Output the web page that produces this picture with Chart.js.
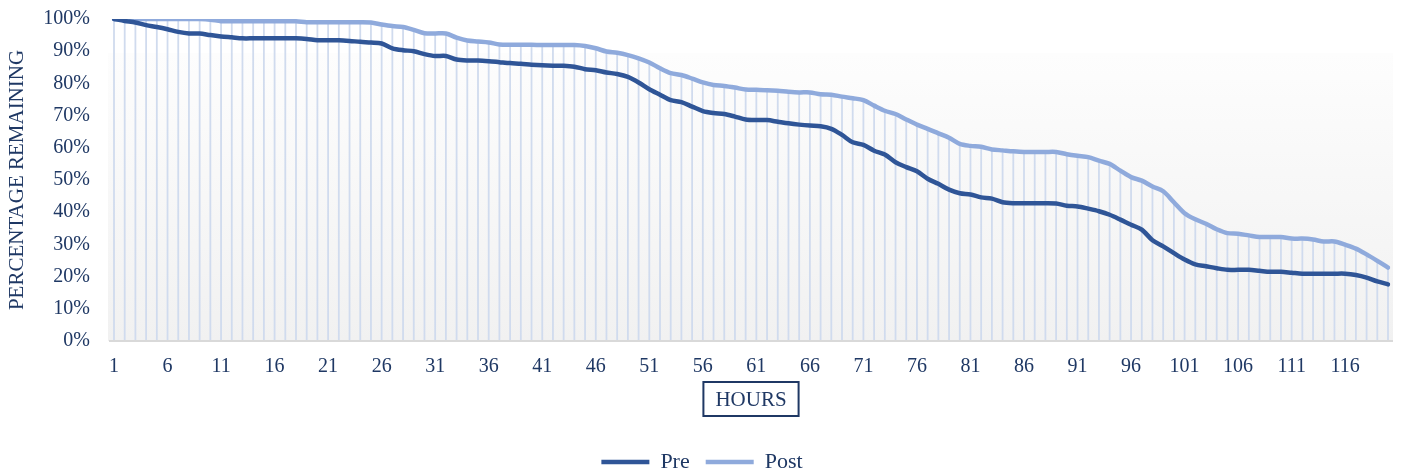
<!DOCTYPE html>
<html>
<head>
<meta charset="utf-8">
<script src="https://cdn.jsdelivr.net/npm/chart.js@4"></script>
<style>
  html, body { margin: 0; padding: 0; background: #fff; }
  #wrap { width: 1403px; height: 476px; position: relative; }
</style>
</head>
<body>
<div id="wrap"><canvas id="chart"></canvas></div>
<script>
// hours 1..120 on the category axis
const hours = Array.from({ length: 120 }, (_, i) => String(i + 1));
const tickLabels = ["1", "6", "11", "16", "21", "26", "31", "36", "41", "46", "51", "56",
  "61", "66", "71", "76", "81", "86", "91", "96", "101", "106", "111", "116"];
const yTicks = [0, 10, 20, 30, 40, 50, 60, 70, 80, 90, 100];

// percentage remaining
const pre = [
  100, 99.4, 98.9, 98.1, 97.5, 96.8, 96.0, 95.5, 95.5, 95.0,
  94.6, 94.3, 94.0, 94.0, 94.0, 94.0, 94.0, 94.0, 93.8, 93.4,
  93.4, 93.4, 93.2, 92.9, 92.7, 92.4, 90.9, 90.3, 90.0, 89.1,
  88.5, 88.5, 87.4, 87.1, 87.1, 86.9, 86.6, 86.3, 86.1, 85.8,
  85.6, 85.5, 85.5, 85.2, 84.4, 84.1, 83.4, 82.9, 82.0, 80.3,
  78.2, 76.5, 74.8, 74.2, 72.8, 71.4, 70.8, 70.5, 69.7, 68.8,
  68.6, 68.6, 68.1, 67.6, 67.2, 66.9, 66.7, 65.9, 64.0, 61.7,
  60.9, 59.1, 57.9, 55.5, 54.0, 52.7, 50.4, 48.8, 47.0, 45.9,
  45.5, 44.6, 44.2, 43.1, 42.8, 42.8, 42.8, 42.8, 42.7, 42.0,
  41.8, 41.1, 40.3, 39.2, 37.7, 36.1, 34.6, 31.3, 29.4, 27.3,
  25.3, 23.8, 23.2, 22.6, 22.1, 22.1, 22.1, 21.8, 21.5, 21.5,
  21.2, 20.9, 20.9, 20.9, 20.9, 20.9, 20.5, 19.7, 18.5, 17.6
];
const post = [
  100, 100, 100, 100, 100, 100, 100, 100, 100, 99.8,
  99.3, 99.3, 99.3, 99.3, 99.3, 99.3, 99.3, 99.3, 99.0, 99.0,
  99.0, 99.0, 99.0, 99.0, 98.9, 98.3, 97.8, 97.5, 96.6, 95.6,
  95.5, 95.5, 94.2, 93.3, 93.0, 92.7, 92.1, 92.0, 92.0, 92.0,
  91.9, 91.9, 91.9, 91.9, 91.6, 90.9, 89.9, 89.5, 88.8, 87.8,
  86.5, 84.7, 83.2, 82.6, 81.5, 80.3, 79.5, 79.2, 78.7, 78.1,
  78.0, 77.9, 77.7, 77.4, 77.2, 77.2, 76.6, 76.5, 75.9, 75.4,
  74.8, 73.1, 71.5, 70.5, 68.8, 67.2, 65.9, 64.5, 63.1, 61.2,
  60.6, 60.3, 59.5, 59.2, 58.9, 58.7, 58.7, 58.7, 58.7, 58.0,
  57.5, 57.1, 56.0, 55.0, 52.9, 50.9, 49.8, 48.0, 46.5, 43.1,
  39.7, 37.8, 36.4, 34.7, 33.5, 33.3, 32.8, 32.3, 32.3, 32.3,
  31.8, 31.8, 31.5, 30.9, 30.9, 29.9, 28.7, 26.9, 24.9, 22.8
];

const navy = "#1f3864";
const serif = "'Liberation Serif', 'Times New Roman', serif";

// gradient plot background, baseline and drop lines
const backdrop = {
  id: "backdrop",
  beforeDatasetsDraw(chart) {
    const { ctx, chartArea: a, scales: { x, y } } = chart;
    ctx.save();
    const top = a.top + 34;
    const g = ctx.createLinearGradient(0, top, 0, a.bottom);
    g.addColorStop(0, "#fdfdfd");
    g.addColorStop(1, "#f1f1f1");
    ctx.fillStyle = g;
    ctx.fillRect(a.left - 6, top, a.right - a.left + 11, a.bottom - top);

    ctx.strokeStyle = "#d0dbee";
    ctx.lineWidth = 1.8;
    ctx.beginPath();
    hours.forEach((h, i) => {
      const px = x.getPixelForValue(i);
      ctx.moveTo(px, y.getPixelForValue(Math.max(pre[i], post[i])));
      ctx.lineTo(px, a.bottom);
    });
    ctx.stroke();

    ctx.strokeStyle = "#d9d9d9";
    ctx.lineWidth = 2;
    ctx.beginPath();
    ctx.moveTo(a.left - 5, a.bottom);
    ctx.lineTo(a.right + 5, a.bottom);
    ctx.stroke();
    ctx.restore();
  }
};

// boxed x axis title
const hoursTitle = {
  id: "hoursTitle",
  afterDraw(chart) {
    const { ctx, chartArea: a } = chart;
    const cx = (a.left + a.right) / 2;
    const cy = a.bottom + 58;
    ctx.save();
    ctx.font = "21px " + serif;
    ctx.fillStyle = navy;
    ctx.textAlign = "center";
    ctx.textBaseline = "middle";
    const w = ctx.measureText("HOURS").width + 24;
    ctx.fillText("HOURS", cx, cy + 1);
    ctx.strokeStyle = navy;
    ctx.lineWidth = 2;
    ctx.strokeRect(cx - w / 2, cy - 17, w, 34);
    ctx.restore();
  }
};

// nudge the legend down and a bit right
const legendShift = {
  id: "legendShift",
  afterLayout(chart) {
    const l = chart.legend;
    if (l) {
      l.top += 9;
      l.bottom += 9;
      l.left += 8;
      l.right += 8;
    }
  }
};

const ctx = document.getElementById("chart").getContext("2d");
new Chart(ctx, {
  type: "line",
  data: {
    labels: hours,
    datasets: [
      {
        label: "Pre",
        data: pre,
        borderColor: "#2f5597",
        backgroundColor: "#2f5597",
        borderWidth: 4.5,
        borderCapStyle: "round",
        pointRadius: 0,
        tension: 0.3
      },
      {
        label: "Post",
        data: post,
        borderColor: "#8faadc",
        backgroundColor: "#8faadc",
        borderWidth: 4.5,
        borderCapStyle: "round",
        pointRadius: 0,
        tension: 0.3
      }
    ]
  },
  options: {
    responsive: true,
    maintainAspectRatio: false,
    animation: false,
    layout: { padding: { top: 19, right: 15, left: 0, bottom: 2 } },
    plugins: {
      tooltip: { enabled: false },
      legend: {
        position: "bottom",
        labels: {
          usePointStyle: true,
          pointStyle: "line",
          pointStyleWidth: 48,
          boxHeight: 4,
          padding: 16,
          color: navy,
          font: { family: serif, size: 22 }
        }
      }
    },
    scales: {
      x: {
        offset: false,
        grid: { display: false, drawTicks: false, tickLength: 0 },
        border: { display: false },
        ticks: {
          autoSkip: false,
          maxRotation: 0,
          padding: 14,
          color: navy,
          font: { family: serif, size: 20 },
          callback: (v, i) => tickLabels.includes(hours[i]) ? hours[i] : ""
        },
        afterFit: (scale) => {
          const legendH = scale.chart.legend ? scale.chart.legend.height : 40;
          scale.height = scale.chart.height - 341 - legendH - 2;
        }
      },
      y: {
        min: 0,
        max: 100,
        afterBuildTicks: (scale) => { scale.ticks = yTicks.map(v => ({ value: v })); },
        // invisible tick marks give the gap between labels and plot
        grid: { display: false, drawTicks: true, tickLength: 24 },
        border: { display: false },
        ticks: {
          padding: 0,
          color: navy,
          font: { family: serif, size: 20 },
          callback: (v) => v + "%"
        },
        title: {
          display: true,
          text: "PERCENTAGE REMAINING",
          color: navy,
          padding: { top: 5, bottom: 0 },
          font: { family: serif, size: 21 }
        },
        afterFit: (scale) => { scale.width = 114; }
      }
    }
  },
  plugins: [backdrop, hoursTitle, legendShift]
});
</script>
</body>
</html>
